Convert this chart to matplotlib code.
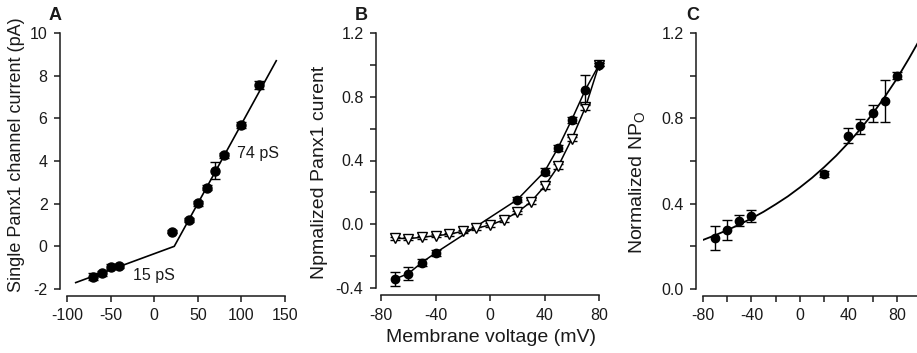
import matplotlib
matplotlib.use('Agg')
import matplotlib.pyplot as plt
from matplotlib.ticker import MultipleLocator

plt.rcParams['font.family'] = ['Liberation Sans', 'DejaVu Sans']
plt.rcParams['axes.unicode_minus'] = False

# ---------------- data ----------------
# Panel A: single-channel I-V
a_v = [-70, -60, -50, -40, 20, 40, 50, 60, 70, 80, 100, 120]
a_i = [-1.42, -1.27, -0.95, -0.92, 0.69, 1.24, 2.02, 2.75, 3.55, 4.27, 5.70, 7.56]
a_err = [0.15, 0.12, 0.10, 0.08, 0.08, 0.10, 0.12, 0.12, 0.38, 0.12, 0.15, 0.20]
a_fit_v = [-90, 23, 140]
a_fit_i = [-1.70, 0.0, 8.70]

# Panel B: normalized macroscopic current
b_v_fill = [-70, -60, -50, -40, 20, 40, 50, 60, 70, 80]
b_i_fill = [-0.344, -0.31, -0.24, -0.18, 0.154, 0.33, 0.48, 0.656, 0.844, 1.0]
b_err_fill = [0.045, 0.04, 0.02, 0.02, 0.015, 0.02, 0.02, 0.02, 0.09, 0.01]
b_v_open = [-70, -60, -50, -40, -30, -20, -10, 0, 10, 20, 30, 40, 50, 60, 70, 80]
b_i_open = [-0.088, -0.09, -0.082, -0.072, -0.063, -0.044, -0.025, -0.005,
            0.027, 0.075, 0.14, 0.238, 0.363, 0.535, 0.733, 1.0]
b_err_open = [0.01, 0.01, 0.01, 0.01, 0.01, 0.01, 0.01, 0.01,
              0.01, 0.01, 0.012, 0.015, 0.015, 0.015, 0.015, 0.01]

# Panel C: normalized NPo
c_v = [-70, -60, -50, -40, 20, 40, 50, 60, 70, 80]
c_p = [0.238, 0.277, 0.32, 0.342, 0.54, 0.718, 0.762, 0.824, 0.882, 1.0]
c_err = [0.055, 0.047, 0.027, 0.03, 0.015, 0.035, 0.037, 0.04, 0.10, 0.015]
c_fit_v = [-80, -70, -60, -50, -40, -30, -20, -10, 0, 10, 20, 30, 40, 50, 60, 70, 80, 90, 100]
c_fit_p = [0.230, 0.252, 0.276, 0.302, 0.331, 0.362, 0.397, 0.434, 0.476, 0.521,
           0.571, 0.625, 0.685, 0.750, 0.821, 0.900, 0.985, 1.080, 1.180]

# ---------------- figure ----------------
W, H = 917, 353
fig = plt.figure(figsize=(W / 100, H / 100), dpi=100)

def px_axes(left, right, top, bottom):
    return fig.add_axes([left / W, (H - bottom) / H, (right - left) / W, (bottom - top) / H])

TXT = '#1a1a1a'
LW = 1.1
TICKFS = 11.5

def style(ax, off_left_px, off_bottom_px):
    for s in ('top', 'right'):
        ax.spines[s].set_visible(False)
    ax.spines['left'].set_position(('outward', off_left_px * 0.72))
    ax.spines['bottom'].set_position(('outward', off_bottom_px * 0.72))
    for s in ('left', 'bottom'):
        ax.spines[s].set_linewidth(LW)
        ax.spines[s].set_color(TXT)
    ax.tick_params(which='both', direction='out', width=LW, color=TXT,
                   labelsize=TICKFS, labelcolor=TXT, pad=5)
    ax.tick_params(which='major', length=4)
    ax.tick_params(which='minor', length=4)
    ax.patch.set_visible(False)

mk = dict(fmt='o', color='black', capsize=3.5, elinewidth=1.0, capthick=1.0)

# ---- Panel A ----
axA = px_axes(67, 285, 33, 289)
axA.set_xlim(-100, 150)
axA.set_ylim(-2, 10)
axA.plot(a_fit_v, a_fit_i, color='black', lw=1.2, zorder=2)
axA.errorbar(a_v, a_i, yerr=a_err, zorder=3, ms=6.5, **mk)
axA.set_xticks([-100, -50, 0, 50, 100, 150])
axA.set_yticks([-2, 0, 2, 4, 6, 8, 10])
axA.text(95, 4.37, '74 pS', fontsize=11.5, color=TXT, va='center', ha='left')
axA.text(-24, -1.35, '15 pS', fontsize=11.5, color=TXT, va='center', ha='left')
style(axA, 7, 7)

# ---- Panel B ----
axB = px_axes(381, 599, 33, 288)
axB.set_xlim(-80, 80)
axB.set_ylim(-0.4, 1.2)
axB.plot(b_v_open, b_i_open, color='black', lw=1.1, zorder=2)
axB.plot(b_v_fill, b_i_fill, color='black', lw=1.1, zorder=2)
axB.errorbar(b_v_open, b_i_open, yerr=b_err_open, fmt='v', mfc='white', mec='black',
             mew=1.0, ms=7.5, color='black', capsize=3.5, elinewidth=1.0, capthick=1.0,
             zorder=3)
axB.errorbar(b_v_fill, b_i_fill, yerr=b_err_fill, zorder=4, ms=6.0, **mk)
axB.set_xticks([-80, -40, 0, 40, 80])
axB.set_yticks([-0.4, 0.0, 0.4, 0.8, 1.2])
axB.set_yticklabels(['-0.4', '0.0', '0.4', '0.8', '1.2'])
axB.yaxis.set_minor_locator(MultipleLocator(0.2))
style(axB, 5, 7)
for l in axB.get_lines():
    l.set_clip_on(False)

# ---- Panel C ----
axC = px_axes(703, 921, 33, 289)
axC.set_xlim(-80, 100)
axC.set_ylim(0.0, 1.2)
axC.plot(c_fit_v, c_fit_p, color='black', lw=1.3, zorder=2)
axC.errorbar(c_v, c_p, yerr=c_err, zorder=3, ms=6.0, **mk)
axC.set_xticks([-80, -40, 0, 40, 80])
axC.xaxis.set_minor_locator(MultipleLocator(20))
axC.set_yticks([0.0, 0.4, 0.8, 1.2])
axC.set_yticklabels(['0.0', '0.4', '0.8', '1.2'])
axC.yaxis.set_minor_locator(MultipleLocator(0.2))
style(axC, 7, 7)

# ---- labels ----
def ftext(x, y, s, **kw):
    fig.text(x / W, (H - y) / H, s, **kw)

ftext(17, 155, 'Single Panx1 channel current (pA)', rotation=90, ha='center', va='center',
      fontsize=13, color=TXT)
ftext(320, 172, 'Npmalized Panx1 curent', rotation=90, ha='center', va='center',
      fontsize=14, color=TXT)
ftext(638, 182, r'Normalized NP$_\mathregular{O}$', rotation=90, ha='center', va='center',
      fontsize=14, color=TXT)
ftext(491, 337, 'Membrane voltage (mV)', ha='center', va='center', fontsize=14, color=TXT)

ftext(55, 15, 'A', ha='center', va='center', fontsize=13, fontweight='bold', color=TXT)
ftext(361, 15, 'B', ha='center', va='center', fontsize=13, fontweight='bold', color=TXT)
ftext(693, 15, 'C', ha='center', va='center', fontsize=13, fontweight='bold', color=TXT)

fig.savefig('out.png', dpi=100)
